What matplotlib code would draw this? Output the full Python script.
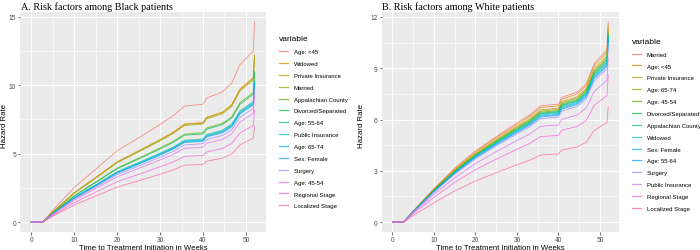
import matplotlib
matplotlib.use("Agg")
import matplotlib.pyplot as plt

weeks = [0, 2.7, 5, 10, 15, 20, 25, 30, 33, 35.7, 40, 40.8, 44.5, 46.7, 48.6, 51.7, 52]

black_labels = ["Age: <45", "Widowed", "Private Insurance", "Married", "Appalachian County",
                "Divorced/Separated", "Age: 55-64", "Public Insurance", "Age: 65-74",
                "Sex: Female", "Surgery", "Age: 45-54", "Regional Stage", "Localized Stage"]

black_hazard = [
    [0, 0, 0.85, 2.52, 3.85, 5.20, 6.15, 7.13, 7.75, 8.47, 8.60, 9.05, 9.50, 10.15, 11.50, 12.48, 14.60],
    [0, 0, 0.72, 2.13, 3.25, 4.39, 5.20, 6.02, 6.55, 7.16, 7.27, 7.65, 8.03, 8.58, 9.72, 10.55, 12.20],
    [0, 0, 0.71, 2.12, 3.23, 4.37, 5.17, 5.99, 6.51, 7.12, 7.22, 7.60, 7.98, 8.53, 9.66, 10.48, 12.15],
    [0, 0, 0.71, 2.10, 3.20, 4.33, 5.12, 5.93, 6.45, 7.05, 7.16, 7.53, 7.90, 8.45, 9.57, 10.38, 12.05],
    [0, 0, 0.64, 1.91, 2.92, 3.94, 4.66, 5.41, 5.88, 6.42, 6.52, 6.86, 7.20, 7.69, 8.72, 9.46, 11.00],
    [0, 0, 0.64, 1.89, 2.88, 3.89, 4.60, 5.33, 5.80, 6.34, 6.43, 6.77, 7.11, 7.59, 8.60, 9.34, 10.90],
    [0, 0, 0.60, 1.78, 2.71, 3.67, 4.34, 5.03, 5.46, 5.97, 6.06, 6.38, 6.70, 7.16, 8.11, 8.80, 10.30],
    [0, 0, 0.59, 1.76, 2.69, 3.63, 4.29, 4.98, 5.41, 5.91, 6.00, 6.32, 6.63, 7.09, 8.03, 8.71, 10.20],
    [0, 0, 0.59, 1.74, 2.66, 3.60, 4.26, 4.93, 5.36, 5.86, 5.95, 6.26, 6.57, 7.02, 7.96, 8.64, 10.10],
    [0, 0, 0.58, 1.73, 2.64, 3.57, 4.22, 4.89, 5.32, 5.81, 5.90, 6.21, 6.52, 6.96, 7.89, 8.56, 10.00],
    [0, 0, 0.57, 1.68, 2.56, 3.46, 4.09, 4.74, 5.15, 5.63, 5.72, 6.02, 6.32, 6.75, 7.65, 8.30, 9.65],
    [0, 0, 0.54, 1.60, 2.45, 3.30, 3.91, 4.53, 4.92, 5.38, 5.46, 5.75, 6.03, 6.45, 7.30, 7.93, 9.25],
    [0, 0, 0.48, 1.42, 2.18, 2.94, 3.48, 4.03, 4.38, 4.79, 4.86, 5.11, 5.37, 5.74, 6.50, 7.05, 8.15],
    [0, 0, 0.42, 1.24, 1.89, 2.55, 3.01, 3.49, 3.80, 4.15, 4.21, 4.44, 4.66, 4.97, 5.64, 6.12, 7.00],
]

white_labels = ["Married", "Age: <45", "Private Insurance", "Age: 65-74", "Age: 45-54",
                "Divorced/Separated", "Appalachian County", "Widowed", "Sex: Female",
                "Age: 55-64", "Surgery", "Public Insurance", "Regional Stage", "Localized Stage"]

white_hazard = [
    [0, 0, 0.65, 1.96, 3.15, 4.16, 5.00, 5.80, 6.25, 6.80, 6.90, 7.30, 7.60, 8.10, 9.28, 10.08, 11.70],
    [0, 0, 0.64, 1.93, 3.10, 4.10, 4.93, 5.71, 6.16, 6.70, 6.80, 7.19, 7.49, 7.98, 9.14, 9.93, 11.55],
    [0, 0, 0.63, 1.89, 3.04, 4.01, 4.83, 5.60, 6.03, 6.56, 6.66, 7.05, 7.33, 7.82, 8.96, 9.73, 11.30],
    [0, 0, 0.62, 1.87, 3.01, 3.97, 4.78, 5.54, 5.97, 6.49, 6.59, 6.97, 7.26, 7.74, 8.86, 9.63, 11.15],
    [0, 0, 0.61, 1.85, 2.98, 3.93, 4.73, 5.48, 5.91, 6.43, 6.52, 6.90, 7.18, 7.66, 8.77, 9.53, 11.05],
    [0, 0, 0.61, 1.84, 2.95, 3.90, 4.69, 5.43, 5.86, 6.37, 6.47, 6.84, 7.12, 7.59, 8.70, 9.45, 10.95],
    [0, 0, 0.60, 1.82, 2.93, 3.87, 4.65, 5.39, 5.81, 6.32, 6.42, 6.79, 7.07, 7.53, 8.63, 9.37, 10.90],
    [0, 0, 0.60, 1.81, 2.90, 3.84, 4.61, 5.35, 5.76, 6.27, 6.36, 6.73, 7.01, 7.47, 8.56, 9.29, 10.80],
    [0, 0, 0.59, 1.79, 2.88, 3.80, 4.57, 5.30, 5.71, 6.21, 6.30, 6.67, 6.94, 7.40, 8.47, 9.20, 10.70],
    [0, 0, 0.59, 1.77, 2.85, 3.77, 4.53, 5.25, 5.66, 6.15, 6.25, 6.61, 6.88, 7.33, 8.40, 9.12, 10.60],
    [0, 0, 0.58, 1.74, 2.80, 3.70, 4.45, 5.16, 5.56, 6.05, 6.14, 6.50, 6.76, 7.21, 8.26, 8.97, 10.40],
    [0, 0, 0.54, 1.61, 2.59, 3.42, 4.12, 4.77, 5.14, 5.60, 5.68, 6.01, 6.26, 6.67, 7.64, 8.30, 9.60],
    [0, 0, 0.48, 1.44, 2.32, 3.06, 3.68, 4.26, 4.59, 5.00, 5.07, 5.37, 5.59, 5.95, 6.82, 7.41, 8.60],
    [0, 0, 0.38, 1.13, 1.82, 2.40, 2.89, 3.35, 3.61, 3.92, 3.98, 4.21, 4.39, 4.67, 5.36, 5.82, 6.75],
]

# ggplot2 default hue palette for 14 groups
ggplot_colors = ["#F8766D", "#E38900", "#C49A00", "#99A800", "#53B400", "#00BC56", "#00C094",
                 "#00BFC4", "#00B6EB", "#06A4FF", "#A58AFF", "#DF70F8", "#FB61D7", "#FF66A8"]

plt.rcParams['font.family'] = ['Liberation Sans', 'DejaVu Sans']

fig = plt.figure(figsize=(7.0, 2.51), dpi=100)


def draw_panel(rect, labels, hazard, title, yticks, legend_xy, ylabel_x):
    ax = fig.add_axes(rect)
    ax.set_facecolor("#EBEBEB")
    for i, (lab, vals) in enumerate(zip(labels, hazard)):
        ax.plot(weeks, vals, color=ggplot_colors[i], lw=0.65, alpha=0.75, label=lab)
    top = max(max(v) for v in hazard)
    pad = top * 0.05
    ax.set_xlim(-2.6, 54.6)
    ax.set_ylim(-pad, top + pad)
    ax.set_xticks([0, 10, 20, 30, 40, 50])
    ax.set_xticks([5, 15, 25, 35, 45], minor=True)
    ax.set_yticks(yticks)
    step = yticks[1] - yticks[0]
    ax.set_yticks([t + step / 2 for t in yticks[:-1]], minor=True)
    ax.grid(which='major', color='white', lw=0.8)
    ax.grid(which='minor', color='white', lw=0.4)
    ax.set_axisbelow(True)
    for s in ax.spines.values():
        s.set_visible(False)
    ax.tick_params(which='major', length=1.8, width=0.5, color='#333333', labelsize=4.8,
                   labelcolor='#4D4D4D', pad=1)
    ax.tick_params(which='minor', length=0)
    ax.set_xlabel("Time to Treatment Initiation in Weeks", fontsize=5.6, labelpad=0.5)
    ax.set_ylabel("Hazard Rate", fontsize=5.6)
    ax.yaxis.set_label_coords(ylabel_x, 0.5, transform=fig.transFigure)
    fig.text(rect[0] + 0.001, 0.99, title, family='Liberation Serif', fontsize=7.3,
             va='top', ha='left')
    leg = ax.legend(loc='upper left', bbox_to_anchor=legend_xy, bbox_transform=fig.transFigure,
                    title='variable', fontsize=4.3, title_fontsize=6, frameon=False,
                    handlelength=1.6, handletextpad=0.9, labelspacing=1.12, borderaxespad=0,
                    alignment='left')
    for line in leg.get_lines():
        line.set_linewidth(0.9)
    return ax


draw_panel([0.0286, 0.0717, 0.351, 0.876], black_labels, black_hazard,
           "A. Risk factors among Black patients", [0, 5, 10, 15], (0.395, 0.865), 0.0115)
draw_panel([0.5453, 0.0717, 0.339, 0.876], white_labels, white_hazard,
           "B. Risk factors among White patients", [0, 3, 6, 9, 12], (0.899, 0.855), 0.5215)

fig.savefig("out.png", dpi=100)
